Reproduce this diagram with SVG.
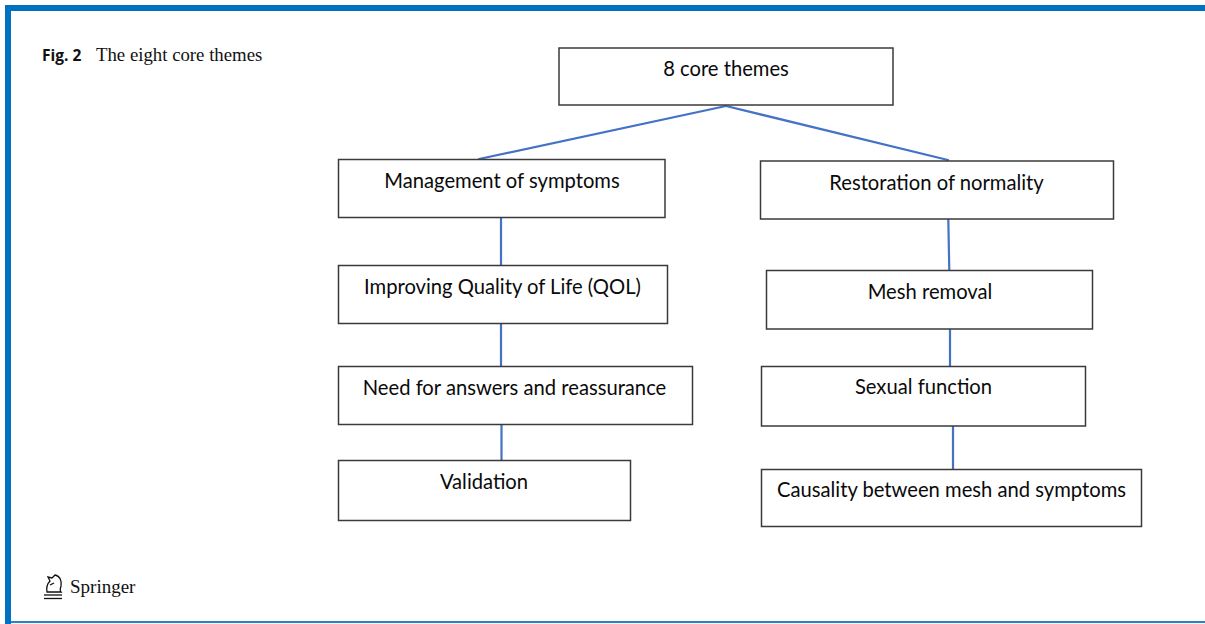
<svg xmlns="http://www.w3.org/2000/svg" width="1205" height="624" viewBox="0 0 1205 624">
  <style>
    .box { fill: #ffffff; stroke: #3a3a3a; stroke-width: 1.5; }
    .lbl { font-family: Lato, "Open Sans", sans-serif; font-size: 20.2px; fill: #0a0a0a; text-anchor: middle; }
    .link { stroke: #4472c4; stroke-width: 2.2; fill: none; stroke-linecap: round; }
    .frame { fill: #0070c0; }
  </style>

  <rect x="0" y="0" width="1205" height="624" fill="#ffffff"/>

  <!-- page frame -->
  <rect class="frame" x="5" y="5" width="1200" height="6"/>
  <rect class="frame" x="5" y="5" width="6" height="619"/>
  <rect x="11" y="621" width="1194" height="2" fill="#2a82cc"/>

  <!-- caption -->
  <text x="42" y="61" font-family="'Open Sans', 'Liberation Sans', sans-serif" font-weight="bold" font-size="15.5px" fill="#111">Fig. 2</text>
  <text x="96" y="61" font-family="'Liberation Serif', serif" font-size="18.8px" fill="#111">The eight core themes</text>

  <!-- publisher mark -->
  <g id="publisher" fill="none" stroke="#111" stroke-width="1.3">
    <path d="M47 592 C46 586 48 583 50 581 L48 577 L52 578 L55 575 C60 576 62 581 61 586 C60 589 60 591 61 592 Z"/>
    <path d="M50 585 L54 583" />
    <line x1="44" y1="595" x2="62" y2="595"/>
    <line x1="44" y1="598.5" x2="62" y2="598.5"/>
  </g>
  <text x="70" y="593" font-family="'Liberation Serif', serif" font-size="19px" fill="#111">Springer</text>

  <!-- connectors -->
  <g id="connectors">
    <line class="link" x1="726" y1="106" x2="479" y2="159"/>
    <line class="link" x1="726" y1="106" x2="948" y2="160"/>
    <line class="link" x1="501" y1="218" x2="501" y2="266"/>
    <line class="link" x1="501" y1="324" x2="501" y2="367"/>
    <line class="link" x1="501.5" y1="424" x2="501.5" y2="461"/>
    <line class="link" x1="948.3" y1="219" x2="949.3" y2="271"/>
    <line class="link" x1="950" y1="329" x2="950" y2="367"/>
    <line class="link" x1="953" y1="426" x2="953" y2="469"/>
  </g>

  <!-- nodes -->
  <g id="root">
    <rect class="box" x="559" y="48" width="334" height="57"/>
    <text class="lbl" x="726" y="76">8 core themes</text>
  </g>
  <g id="management-of-symptoms">
    <rect class="box" x="338.5" y="159.5" width="326.5" height="58"/>
    <text class="lbl" x="502" y="188">Management of symptoms</text>
  </g>
  <g id="improving-qol">
    <rect class="box" x="338.5" y="265.5" width="329" height="58"/>
    <text class="lbl" x="502.5" y="293.5">Improving Quality of Life (QOL)</text>
  </g>
  <g id="need-for-answers">
    <rect class="box" x="338.5" y="366.5" width="354" height="58"/>
    <text class="lbl" x="514.5" y="394.5">Need for answers and reassurance</text>
  </g>
  <g id="validation">
    <rect class="box" x="338.5" y="460.5" width="292" height="60"/>
    <text class="lbl" x="484" y="488.5">Validation</text>
  </g>
  <g id="restoration-of-normality">
    <rect class="box" x="760.5" y="161" width="353" height="58"/>
    <text class="lbl" x="936.5" y="189.5">Restoration of normality</text>
  </g>
  <g id="mesh-removal">
    <rect class="box" x="766.5" y="270.5" width="326" height="58.5"/>
    <text class="lbl" x="930" y="298.5">Mesh removal</text>
  </g>
  <g id="sexual-function">
    <rect class="box" x="761.5" y="366.5" width="324" height="59.5"/>
    <text class="lbl" x="923.5" y="394">Sexual function</text>
  </g>
  <g id="causality">
    <rect class="box" x="761.5" y="469.5" width="380" height="57"/>
    <text class="lbl" x="951.5" y="497">Causality between mesh and symptoms</text>
  </g>
</svg>
